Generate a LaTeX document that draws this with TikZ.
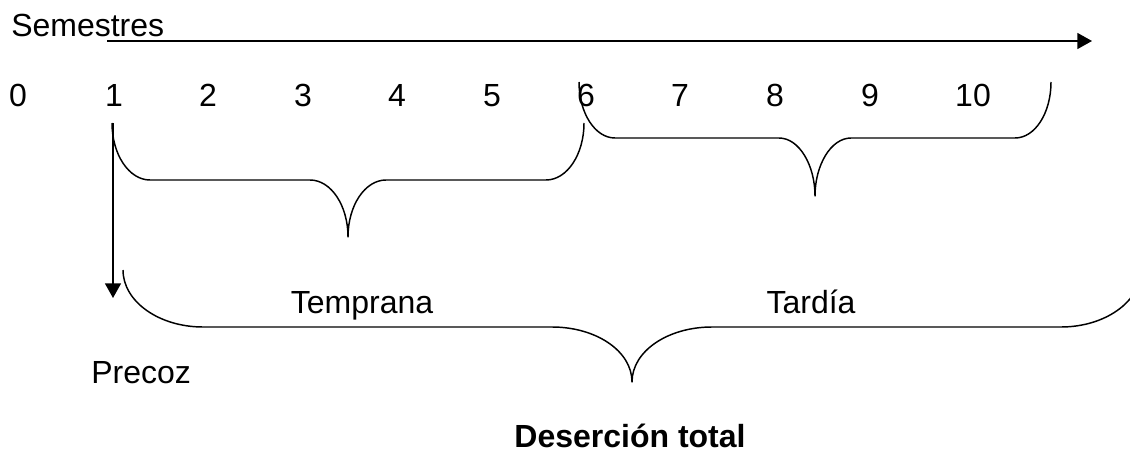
\documentclass[tikz,border=0pt]{standalone}
\usepackage{fontspec}
\setmainfont{Liberation Sans}
\usetikzlibrary{arrows.meta}
\tikzset{
  lbl/.style={font=\fontsize{24pt}{28pt}\selectfont, inner sep=0pt, anchor=base},
  lblw/.style={lbl, anchor=base west},
  brace/.style={line width=1.1pt, line join=round},
  axisarrow/.style={line width=1.1pt, -{Triangle[length=11pt,width=12pt]}},
}
\begin{document}
\begin{tikzpicture}[x=0.75pt,y=-0.75pt]
\useasboundingbox (0,0) rectangle (1130,452);
\clip (0,0) rectangle (1130,452);
% title and axis
\node[lblw] (sem) at (11,37) {Semestres};
\coordinate (axisstart) at (107,41);
\coordinate (axisend) at (1092,41);
\draw[axisarrow] (axisstart) -- (axisend);
% numbers
\node[lbl] (n0) at (18,107) {0};
\node[lbl] (n1) at (114,107) {1};
\node[lbl] (n2) at (208,107) {2};
\node[lbl] (n3) at (303,107) {3};
\node[lbl] (n4) at (397,107) {4};
\node[lbl] (n5) at (492,107) {5};
\node[lbl] (n6) at (586,107) {6};
\node[lbl] (n7) at (680,107) {7};
\node[lbl] (n8) at (775,107) {8};
\node[lbl] (n9) at (870,107) {9};
\node[lbl] (n10) at (973,107) {10};
% brace 1 (semesters 1-6)
\coordinate (b1l) at (112,123);
\coordinate (b1r) at (584,123);
\draw[brace] (b1l) .. controls (112,154.5) and (129,180) .. (150,180)
  -- (310,180) .. controls (331,180) and (348,205.5) .. (348,237)
  .. controls (348,205.5) and (365,180) .. (386,180)
  -- (546,180) .. controls (567,180) and (584,154.5) .. (b1r);
% brace 2 (semesters 6-10)
\coordinate (b2l) at (579,82);
\coordinate (b2r) at (1051,82);
\draw[brace] (b2l) .. controls (579,113) and (595,138) .. (615,138)
  -- (779,138) .. controls (799,138) and (815,165) .. (815,196)
  .. controls (815,165) and (831,138) .. (851,138)
  -- (1015,138) .. controls (1035,138) and (1051,113) .. (b2r);
% vertical arrow (Precoz)
\coordinate (vtop) at (113,123);
\coordinate (vbot) at (113,298);
\draw[axisarrow] (vtop) -- (vbot);
% big brace
\coordinate (b3l) at (123,270);
\coordinate (b3r) at (1141,270);
\draw[brace] (b3l) .. controls (123,301.5) and (159,327) .. (203,327)
  -- (552,327) .. controls (596,327) and (632,351) .. (632,382)
  .. controls (632,351) and (668,327) .. (712,327)
  -- (1061,327) .. controls (1105,327) and (1141,301.5) .. (b3r);
% labels
\node[lbl] (temprana) at (362,313) {Temprana};
\node[lbl] (tardia) at (811,313) {Tardía};
\node[lblw] (precoz) at (91,383) {Precoz};
\node[lbl, font=\fontsize{24pt}{28pt}\selectfont\bfseries] (total) at (630,447) {Deserción total};
\end{tikzpicture}
\end{document}
